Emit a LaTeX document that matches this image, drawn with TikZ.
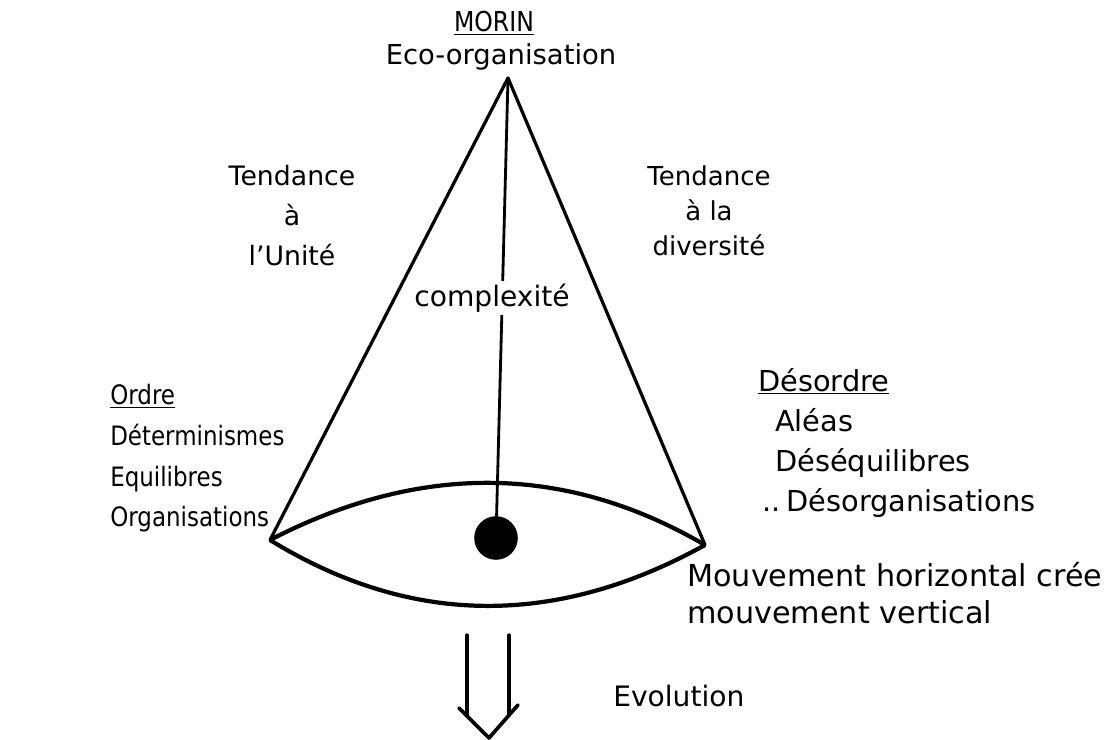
\documentclass[tikz,border=0pt]{standalone}
\usepackage{fontspec}
\setmainfont{DejaVu Sans}
\newfontfamily\narrowfont[FakeStretch=0.86]{DejaVu Sans}
\usetikzlibrary{positioning}
\tikzset{
  lbl/.style={font=\fontsize{20.5}{28.4}\selectfont, inner sep=0pt},
  cone/.style={line width=2.3pt, line cap=round, line join=round},
  lens/.style={line width=3pt, line join=round},
  core/.style={circle, fill, minimum size=31pt, inner sep=0pt}
}

\begin{document}
\begin{tikzpicture}[x=0.025cm, y=-0.025cm]
\useasboundingbox (0,0) rectangle (1118,740);
\coordinate (top) at (508,78);
\coordinate (L) at (270,540);
\coordinate (R) at (705,545);
\node[core] (core) at (496,538) {};
% cone and lens
\draw[cone] (L) -- (top) -- (R);
\draw[lens] (L) .. controls (421,462) and (566,464) .. (R);
\draw[lens] (L) .. controls (410,626) and (555,628) .. (R);
\draw[cone, line width=2pt] (top) -- (core);
\node[lbl, fill=white, inner sep=2pt, font=\fontsize{20}{24}\selectfont] (cplx) at (492,298) {complexité};
% labels
\node[lbl, anchor=base, font=\fontsize{19.5}{24}\selectfont] (morin) at (494,32) {\underline{\narrowfont MORIN}};
\node[lbl, anchor=base, font=\fontsize{19.5}{24}\selectfont] (eco) at (501,65) {Eco-organisation};
\node[lbl, anchor=north, align=center, font=\fontsize{19}{28.4}\selectfont] (unite) at (292,165) {Tendance\\à\\l'Unité};
\node[lbl, anchor=north, align=center, font=\fontsize{18.5}{25}\selectfont] (divers) at (709,165) {Tendance\\à la\\diversité};
\node[lbl, anchor=north west, align=left, font=\narrowfont\fontsize{19}{29}\selectfont] (ordre) at (110,384)
  {\underline{Ordre}\\Déterminismes\\Equilibres\\Organisations};
\node[lbl, anchor=north west, align=left] (desordre) at (758,368)
  {\underline{Désordre}\\\hspace*{12pt}Aléas\\\hspace*{12pt}Déséquilibres\\\hspace*{3pt}..\hspace{4pt}Désorganisations};
\node[lbl, anchor=north west, align=left, font=\fontsize{21.5}{26.3}\selectfont] (mouv) at (687,562)
  {Mouvement horizontal crée\\mouvement vertical};
\node[lbl, anchor=north west, font=\fontsize{20}{24}\selectfont] (evol) at (613,685) {Evolution};
% arrow
\coordinate (a1) at (467,635);
\coordinate (a2) at (509,635);
\coordinate (b1) at (467,715);
\coordinate (b2) at (509,715);
\coordinate (hl) at (459,708);
\coordinate (ht) at (489,738);
\coordinate (hr) at (518,705);
\draw[cone] (a1) -- (b1);
\draw[cone] (a2) -- (b2);
\draw[cone, line width=2.6pt] (hl) -- (ht) -- (hr);
\end{tikzpicture}
\end{document}
